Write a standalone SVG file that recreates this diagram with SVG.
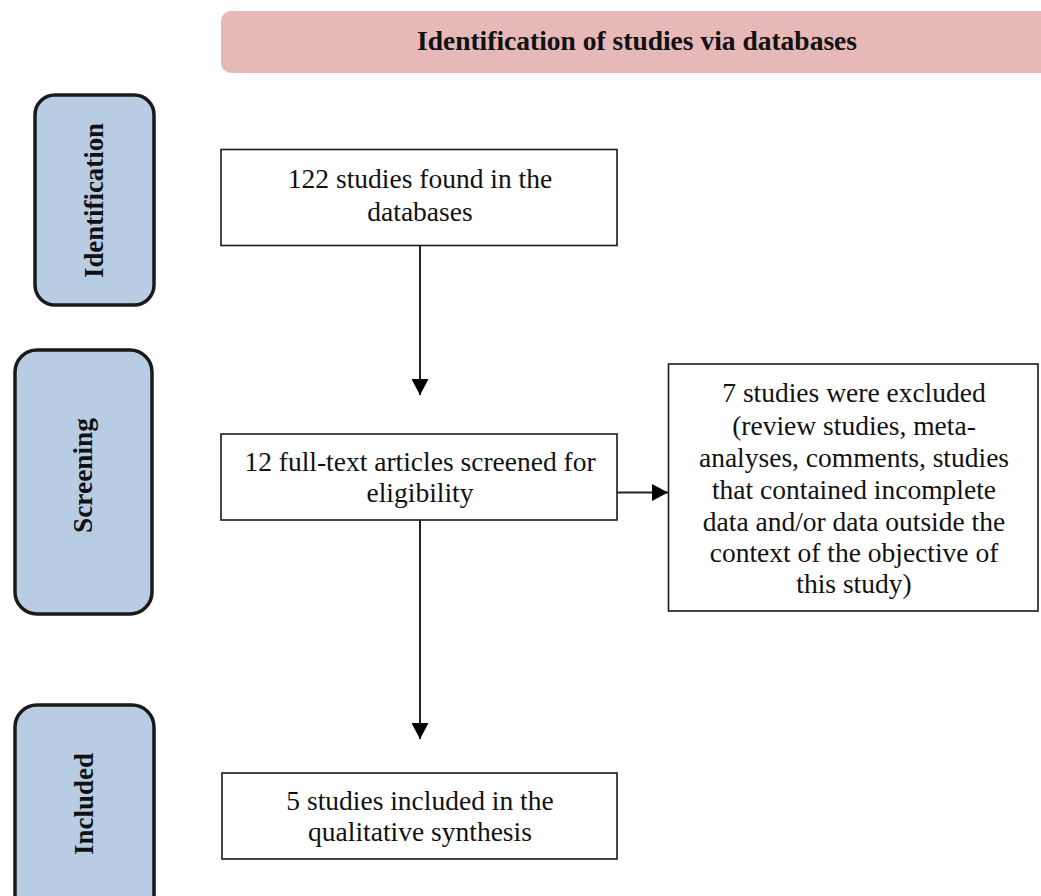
<svg xmlns="http://www.w3.org/2000/svg" width="1041" height="896" viewBox="0 0 1041 896">
<style>
.body{font-family:"Liberation Serif","Times New Roman",serif;font-size:27.5px;fill:#111;text-anchor:middle}
.side{font-family:"Liberation Serif","Times New Roman",serif;font-size:28px;font-weight:bold;fill:#111;text-anchor:middle}
.hdr{font-family:"Liberation Serif","Times New Roman",serif;font-size:27.5px;font-weight:bold;fill:#111;text-anchor:middle}
.box{fill:#fff;stroke:#1a1a1a;stroke-width:1.6}
.phase{fill:#b8cce4;stroke:#1a1a1a;stroke-width:3.5}
.conn{stroke:#222;stroke-width:2;fill:none}
</style>
<defs>
<marker id="ah" markerUnits="userSpaceOnUse" markerWidth="17" markerHeight="17" refX="16" refY="8.5" orient="auto">
<path d="M0,0 L16,8.5 L0,17 z" fill="#000"/>
</marker>
</defs>
<g id="header">
<rect x="221" y="11" width="860" height="62" rx="10" fill="#e6b8b7"/>
<text class="hdr" x="637" y="50">Identification of studies via databases</text>
</g>
<g id="phase-identification">
<rect class="phase" x="35" y="95" width="119" height="210" rx="20"/>
<text class="side" transform="translate(103,200.5) rotate(-90)" textLength="155" lengthAdjust="spacingAndGlyphs">Identification</text>
</g>
<g id="phase-screening">
<rect class="phase" x="15" y="350" width="137" height="264" rx="22"/>
<text class="side" transform="translate(92,475.5) rotate(-90)" textLength="115" lengthAdjust="spacingAndGlyphs">Screening</text>
</g>
<g id="phase-included">
<rect class="phase" x="15" y="705" width="139" height="220" rx="22"/>
<text class="side" transform="translate(93,804) rotate(-90)" textLength="102" lengthAdjust="spacingAndGlyphs">Included</text>
</g>
<g id="node-found">
<rect class="box" x="221" y="149.5" width="396" height="96"/>
<text class="body" x="420" y="188">122 studies found in the</text>
<text class="body" x="420" y="221">databases</text>
</g>
<g id="node-screened">
<rect class="box" x="221" y="434" width="396" height="86"/>
<text class="body" x="420" y="471">12 full-text articles screened for</text>
<text class="body" x="420" y="502">eligibility</text>
</g>
<g id="node-excluded">
<rect class="box" x="668.5" y="364" width="369.5" height="247"/>
<text class="body" x="854" y="402">7 studies were excluded</text>
<text class="body" x="854" y="434.5">(review studies, meta-</text>
<text class="body" x="854" y="466.5">analyses, comments, studies</text>
<text class="body" x="854" y="498.5">that contained incomplete</text>
<text class="body" x="854" y="530.5">data and/or data outside the</text>
<text class="body" x="854" y="561.5">context of the objective of</text>
<text class="body" x="854" y="593">this study)</text>
</g>
<g id="node-included">
<rect class="box" x="222" y="773" width="395" height="86"/>
<text class="body" x="420" y="810">5 studies included in the</text>
<text class="body" x="420" y="841">qualitative synthesis</text>
</g>
<g id="connectors">
<line class="conn" x1="420" y1="246" x2="420" y2="395" marker-end="url(#ah)"/>
<line class="conn" x1="420" y1="520" x2="420" y2="739" marker-end="url(#ah)"/>
<line class="conn" x1="617" y1="492.5" x2="668" y2="492.5" stroke-width="2.5" marker-end="url(#ah)"/>
</g>
</svg>
